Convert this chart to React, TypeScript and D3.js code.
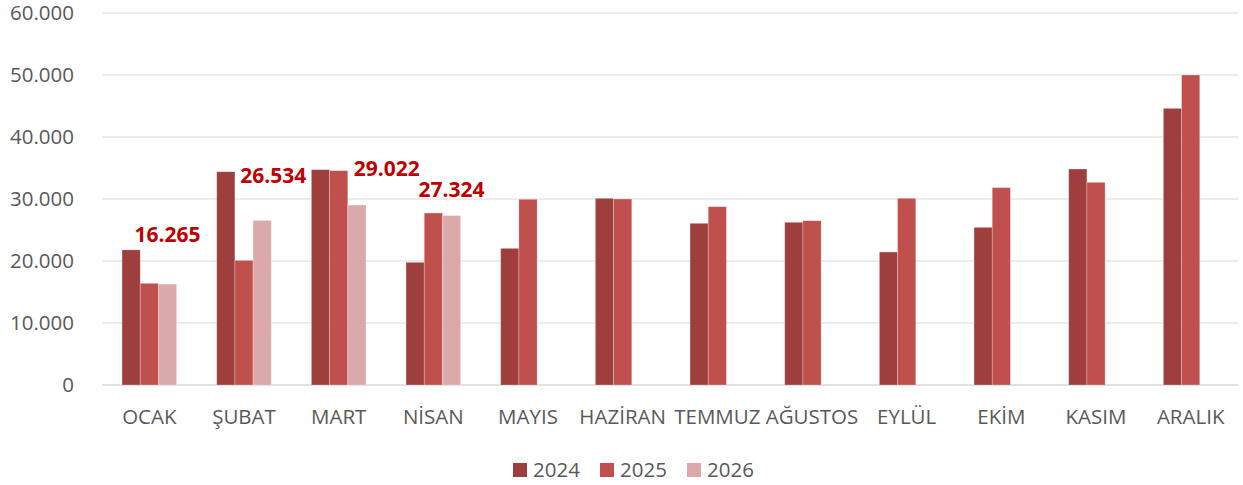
import { useEffect, useRef } from 'react'
import * as d3 from 'd3'

const months = ['OCAK', 'ŞUBAT', 'MART', 'NİSAN', 'MAYIS', 'HAZİRAN', 'TEMMUZ', 'AĞUSTOS', 'EYLÜL', 'EKİM', 'KASIM', 'ARALIK']
const years = ['2024', '2025', '2026']

const values2024 = [21800, 34400, 34730, 19790, 22040, 30110, 26080, 26240, 21450, 25430, 34840, 44620]
const values2025 = [16400, 20100, 34570, 27740, 29950, 30000, 28760, 26500, 30110, 31830, 32690, 50000]
const values2026: (number | null)[] = [16265, 26534, 29022, 27324, null, null, null, null, null, null, null, null]

const yTicks = [0, 10000, 20000, 30000, 40000, 50000, 60000]

const colors = ['#9E3F3E', '#C0504D', '#DBA9A9']

// manual nudges of the 2026 value labels (px), like the hand-placed labels in the original
const labelNudge = [[0, -42], [11, -37.5], [30, -29.5], [0, -19]]

const fmt = (v: number) => d3.format(',')(v).replace(/,/g, '.')

const App = () => {
  const ref = useRef<SVGSVGElement>(null)

  useEffect(() => {
    document.body.style.margin = '0'
    const w = 1243
    const h = 485
    const left = 102
    const right = 1238
    const top = 13
    const bottom = 385

    const svg = d3.select(ref.current)
    svg.selectAll('*').remove()
    svg.attr('width', w).attr('height', h).style('display', 'block').style('background', '#fff')

    const x0 = d3.scaleBand<string>()
      .domain(months)
      .range([left, right])
      .paddingInner(0.4233)
      .paddingOuter(0.2117)

    const x1 = d3.scaleBand<string>()
      .domain(years)
      .range([0, x0.bandwidth()])

    const y = d3.scaleLinear()
      .domain([0, 60000])
      .range([bottom, top])

    // grid
    svg.append('g')
      .selectAll('line')
      .data(yTicks)
      .join('line')
      .attr('x1', left)
      .attr('x2', right)
      .attr('y1', d => y(d))
      .attr('y2', d => y(d))
      .attr('stroke', '#D9D9D9')
      .attr('stroke-width', d => d === 0 ? 1.5 : 1.2)

    // y labels
    svg.append('g')
      .selectAll('text')
      .data(yTicks)
      .join('text')
      .attr('x', 74)
      .attr('y', d => y(d))
      .attr('dy', '0.36em')
      .attr('text-anchor', 'end')
      .attr('font-family', 'Open Sans')
      .attr('font-size', 20.5)
      .attr('fill', '#595959')
      .text(d => fmt(d))

    const series = [values2024, values2025, values2026]

    // bars
    series.forEach((vals, si) => {
      svg.append('g')
        .selectAll('rect')
        .data(vals.map((v, i) => ({ m: months[i], v })).filter(d => d.v != null))
        .join('rect')
        .attr('x', d => (x0(d.m) as number) + (x1(years[si]) as number))
        .attr('width', x1.bandwidth())
        .attr('y', d => y(d.v as number))
        .attr('height', d => bottom - y(d.v as number))
        .attr('fill', colors[si])
        .attr('stroke', 'rgba(255,255,255,0.35)')
        .attr('stroke-width', 0.75)
    })

    // 2026 value labels
    svg.append('g')
      .selectAll('text')
      .data(values2026.map((v, i) => ({ m: months[i], v, i })).filter(d => d.v != null))
      .join('text')
      .attr('x', d => (x0(d.m) as number) + (x1('2026') as number) + x1.bandwidth() / 2 + labelNudge[d.i][0])
      .attr('y', d => y(d.v as number) + labelNudge[d.i][1])
      .attr('text-anchor', 'middle')
      .attr('font-family', 'Open Sans')
      .attr('font-weight', 'bold')
      .attr('font-size', 21)
      .attr('fill', '#C00000')
      .text(d => fmt(d.v as number))

    // category labels
    svg.append('g')
      .selectAll('text')
      .data(months)
      .join('text')
      .attr('x', d => (x0(d) as number) + x0.bandwidth() / 2)
      .attr('y', 424)
      .attr('text-anchor', 'middle')
      .attr('font-family', 'Open Sans')
      .attr('font-size', 20.5)
      .attr('fill', '#595959')
      .text(d => d)

    // legend
    const legendX = [513, 600, 687]
    const lg = svg.append('g')
    years.forEach((yr, i) => {
      lg.append('rect')
        .attr('x', legendX[i])
        .attr('y', 463)
        .attr('width', 14)
        .attr('height', 14)
        .attr('fill', colors[i])
      lg.append('text')
        .attr('x', legendX[i] + 20)
        .attr('y', 477)
        .attr('font-family', 'Open Sans')
        .attr('font-size', 20.5)
        .attr('fill', '#595959')
        .text(yr)
    })
  }, [])

  return <svg ref={ref}></svg>
}

export default App
